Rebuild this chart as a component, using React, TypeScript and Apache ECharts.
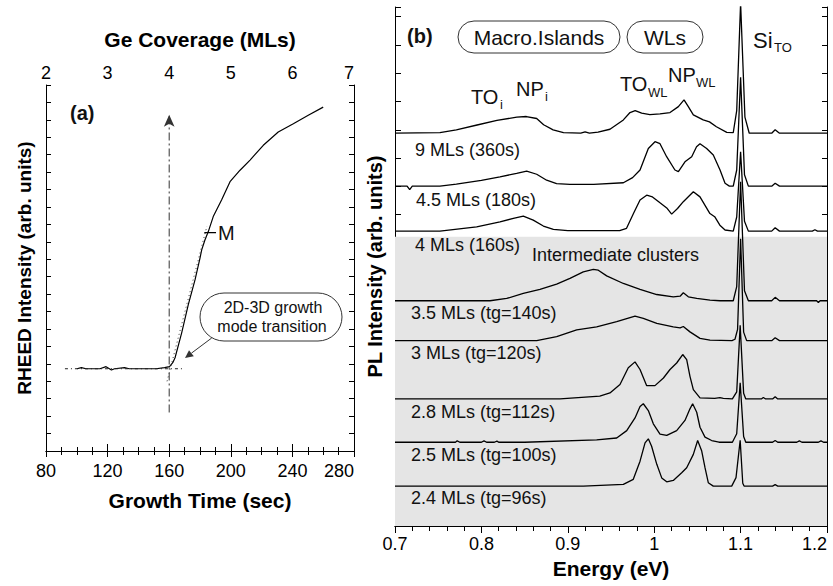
import React, { useEffect, useRef } from "react";
import * as echarts from "echarts";

const FONT = "'Liberation Sans', Arial, Helvetica, sans-serif";

// ---------------- Panel (a): RHEED intensity ----------------
const growthTimeTicks = [80, 120, 160, 200, 240, 280];
const geCoverageTicks = [2, 3, 4, 5, 6, 7];
const rheedRange = [0, 21];

const rheedTime = [100, 103, 106, 115, 119, 122.5, 124.5, 131, 134, 151.5, 157, 160.2, 162.3, 163.8, 168.1, 172.4, 176.8, 180, 181.1, 183.2, 185.4, 188.6, 194, 199.5, 206, 212.5, 221.1, 230.8, 240.6, 250.3, 260];
const rheedIntensity = [4.72, 4.78, 4.72, 4.72, 4.84, 4.65, 4.72, 4.78, 4.72, 4.72, 4.78, 4.84, 5.07, 5.35, 6.78, 8.4, 9.83, 11.07, 11.54, 12.11, 12.59, 13.45, 14.4, 15.45, 16.11, 16.69, 17.54, 18.3, 18.78, 19.26, 19.73];

const baselineGuide = [[92.3, 4.72], [169.2, 4.72]];
const slopeGuide = [[158.6, 4.0], [184.5, 12.9]];
const transitionLine = [[160, 2.21], [160, 19.3]];
const markM = [[182.8, 12.53], [190.4, 12.53]];

// ---------------- Panel (b): PL spectra ----------------
const energyTicks = [0.7, 0.8, 0.9, 1.0, 1.1, 1.2];
const plRange = [0, 18.34];
const shadedBand = [0, 10.22];

const spectrumLabels = ["9 MLs (360s)", "4.5 MLs (180s)", "4 MLs (160s)", "3.5 MLs (tg=140s)", "3 MLs (tg=120s)", "2.8 MLs (tg=112s)", "2.5 MLs (tg=100s)", "2.4 MLs (tg=96s)"];
const spectrumBaselines = [13.88, 12.01, 10.42, 7.96, 6.55, 4.49, 2.96, 1.41];

const spec9ML = [[0.7, 0], [0.752, 0.02], [0.771, 0.12], [0.795, 0.29], [0.818, 0.45], [0.841, 0.57], [0.852, 0.59], [0.864, 0.52], [0.872, 0.3], [0.883, 0.12], [0.895, 0.02], [0.915, 0.0], [0.92, 0.05], [0.925, 0.0], [0.935, 0.04], [0.9488, 0.14], [0.9643, 0.47], [0.972, 0.73], [0.978, 0.8], [0.9855, 0.71], [0.995, 0.66], [1.0067, 0.68], [1.0183, 0.73], [1.028, 0.94], [1.0345, 1.18], [1.0395, 0.94], [1.0453, 0.65], [1.0567, 0.47], [1.064, 0.4], [1.072, 0.23], [1.084, 0.03], [1.0915, 0.02], [1.0955, 0.8], [1.1, 4.6], [1.105, 0.57], [1.11, 0], [1.136, 0], [1.14, 0.12], [1.145, 0], [1.2, 0]];
const spec45ML = [[0.7, 0], [0.714, 0], [0.717, -0.12], [0.72, 0], [0.752, 0], [0.771, 0.07], [0.8, 0.2], [0.8215, 0.33], [0.8408, 0.45], [0.8524, 0.53], [0.864, 0.42], [0.8755, 0.21], [0.887, 0.09], [0.9025, 0.06], [0.93, 0.06], [0.9643, 0.12], [0.975, 0.3], [0.9836, 0.57], [0.9932, 1.33], [1.0009, 1.57], [1.0067, 1.5], [1.0144, 1.04], [1.024, 0.57], [1.028, 0.51], [1.0356, 0.86], [1.0434, 1.04], [1.049, 1.39], [1.053, 1.5], [1.0607, 1.33], [1.0684, 1.1], [1.0762, 0.57], [1.082, 0.1], [1.087, 0], [1.0915, 0], [1.0955, 0.57], [1.1, 3.85], [1.1045, 0.4], [1.109, 0], [1.136, 0], [1.14, 0.1], [1.145, 0], [1.2, 0]];
const spec4ML = [[0.7, 0], [0.752, 0], [0.7945, 0.15], [0.8215, 0.33], [0.837, 0.45], [0.8485, 0.53], [0.86, 0.39], [0.8717, 0.18], [0.8833, 0.06], [0.9, 0.02], [0.96, 0.02], [0.968, 0.1], [0.976, 0.62], [0.9836, 1.1], [0.9913, 1.27], [0.998, 1.21], [1.0067, 1.0], [1.0145, 0.82], [1.0202, 0.6], [1.027, 0.8], [1.0337, 1.04], [1.0453, 1.39], [1.053, 1.21], [1.0645, 0.62], [1.07, 0.51], [1.076, 0.21], [1.082, 0.04], [1.0915, 0], [1.0955, 0.5], [1.1, 2.8], [1.1045, 0.35], [1.109, 0], [1.136, 0], [1.14, 0.12], [1.145, 0], [1.183, 0], [1.186, 0.05], [1.189, 0], [1.2, 0]];
const spec35ML = [[0.7, 0], [0.81, 0], [0.8293, 0.08], [0.8485, 0.26], [0.8678, 0.4], [0.8871, 0.59], [0.9025, 0.79], [0.9179, 1.02], [0.9295, 1.11], [0.9353, 1.08], [0.945, 0.88], [0.9643, 0.61], [0.9836, 0.4], [1.0029, 0.22], [1.0221, 0.14], [1.03, 0.16], [1.0337, 0.28], [1.0395, 0.14], [1.0492, 0.08], [1.0646, 0.02], [1.0762, 0], [1.0915, 0], [1.0955, 0.5], [1.1, 4.2], [1.1045, 0.35], [1.109, 0], [1.136, 0], [1.14, 0.12], [1.145, 0], [1.188, 0], [1.19, -0.06], [1.192, 0], [1.2, 0]];
const spec3ML = [[0.7, 0], [0.864, 0], [0.8871, 0.14], [0.9103, 0.38], [0.9334, 0.49], [0.9566, 0.67], [0.9778, 0.87], [0.9874, 0.79], [1.003, 0.61], [1.0221, 0.49], [1.03, 0.45], [1.0337, 0.5], [1.0414, 0.31], [1.053, 0.08], [1.0646, 0.02], [1.09, 0], [1.0935, 0.05], [1.0965, 0.4], [1.1, 3.6], [1.1035, 0.3], [1.107, 0], [1.136, 0], [1.14, 0.1], [1.145, 0], [1.2, 0]];
const spec28ML = [[0.7, 0], [0.891, 0], [0.937, 0.1], [0.9488, 0.21], [0.9604, 0.51], [0.97, 1.1], [0.9778, 1.31], [0.9836, 1.04], [0.9913, 0.47], [1.0009, 0.47], [1.0107, 0.74], [1.0183, 1.04], [1.026, 1.27], [1.033, 1.57], [1.0376, 1.39], [1.0414, 0.8], [1.0453, 0.33], [1.053, 0.04], [1.07, 0.02], [1.076, 0.05], [1.08, 0.02], [1.0905, 0], [1.0955, 0.25], [1.0995, 2.6], [1.1035, 0.2], [1.106, 0], [1.124, 0], [1.1263, 0.05], [1.129, 0], [1.137, 0], [1.14, 0.08], [1.143, 0], [1.2, 0]];
const spec25ML = [[0.7, 0], [0.77, 0], [0.772, 0.05], [0.775, 0], [0.8, 0], [0.803, 0.05], [0.806, 0], [0.815, 0], [0.818, 0.04], [0.82, 0], [0.85, 0], [0.9334, 0.08], [0.9566, 0.15], [0.9682, 0.41], [0.9778, 0.86], [0.9836, 1.26], [0.9874, 1.36], [0.9932, 1.12], [0.999, 0.65], [1.0067, 0.29], [1.0145, 0.24], [1.026, 0.41], [1.0356, 0.77], [1.0414, 1.18], [1.0445, 1.36], [1.0492, 1.06], [1.053, 0.53], [1.0588, 0.18], [1.0665, 0.06], [1.075, 0], [1.0905, 0], [1.0955, 0.3], [1.0995, 2.1], [1.1035, 0.2], [1.106, 0], [1.137, 0], [1.14, 0.06], [1.143, 0], [1.165, 0], [1.168, 0.05], [1.171, 0], [1.19, 0], [1.193, 0.05], [1.196, 0], [1.2, 0]];
const spec24ML = [[0.7, 0], [0.918, 0], [0.9643, 0.06], [0.9758, 0.24], [0.9836, 0.88], [0.9894, 1.53], [0.9932, 1.67], [0.997, 1.41], [1.003, 0.77], [1.0087, 0.29], [1.0145, 0.15], [1.0221, 0.2], [1.0318, 0.47], [1.0376, 0.65], [1.0453, 1.12], [1.0503, 1.61], [1.055, 1.24], [1.0588, 0.65], [1.0626, 0.12], [1.0684, 0], [1.0897, 0], [1.0947, 0.3], [1.0995, 1.62], [1.1025, 0.1], [1.104, 0], [1.137, 0], [1.14, 0.05], [1.143, 0], [1.2, 0]];

const spectra = [spec9ML, spec45ML, spec4ML, spec35ML, spec3ML, spec28ML, spec25ML, spec24ML];

// ---------------- layout ----------------
const GA = { left: 46, top: 85, width: 308, height: 366 };
const GB = { left: 395, top: 7, width: 432, height: 519 };
const labelYs = [150, 200, 245, 313, 353, 412, 455, 498];
const labelXs = [415, 416, 415, 411, 411, 411, 411, 411];

const txt = (x: number, y: number, text: string, size: number, opts: any = {}) => ({
  type: "text",
  x,
  y,
  z: 100,
  style: {
    text,
    fill: "#111",
    fontSize: size,
    fontFamily: FONT,
    fontWeight: opts.bold ? "bold" : "normal",
    align: opts.align || "left",
    verticalAlign: "middle",
  },
});

export default function App() {
  const ref = useRef<HTMLDivElement>(null);

  useEffect(() => {
    if (!ref.current) return;
    const chart = echarts.init(ref.current, undefined, { renderer: "svg" });

    const axisLine = { show: true, lineStyle: { color: "#000", width: 1 } };
    const nameStyle = { fontSize: 21, fontWeight: "bold", color: "#000", fontFamily: FONT };
    const labelStyle = { fontSize: 18, color: "#000", fontFamily: FONT };

    const tAx = {
      min: growthTimeTicks[0],
      max: growthTimeTicks[growthTimeTicks.length - 1],
      interval: growthTimeTicks[1] - growthTimeTicks[0],
    };
    const cAx = {
      min: geCoverageTicks[0],
      max: geCoverageTicks[geCoverageTicks.length - 1],
      interval: geCoverageTicks[1] - geCoverageTicks[0],
    };

    const specLine = { color: "#000", width: 1.3 };

    const option: any = {
      animation: false,
      backgroundColor: "#fff",
      grid: [
        { ...GA, containLabel: false },
        { ...GB, containLabel: false },
      ],
      xAxis: [
        {
          type: "value", gridIndex: 0, position: "bottom", ...tAx,
          axisLine, splitLine: { show: false },
          axisTick: { inside: true, length: 7, lineStyle: { color: "#000" } },
          minorTick: { show: true, splitNumber: 4, length: 4, lineStyle: { color: "#000" } },
          axisLabel: { ...labelStyle, margin: 11, alignMaxLabel: "right" },
          name: "Growth Time (sec)", nameLocation: "middle", nameGap: 39, nameTextStyle: nameStyle,
        },
        {
          type: "value", gridIndex: 0, position: "top", ...cAx,
          axisLine, splitLine: { show: false },
          axisTick: { inside: true, length: 6, lineStyle: { color: "#000" } },
          minorTick: { show: true, splitNumber: 4, length: 4, lineStyle: { color: "#000" } },
          axisLabel: { ...labelStyle, margin: 3, alignMaxLabel: "right" },
          name: "Ge Coverage (MLs)", nameLocation: "middle", nameGap: 35, nameTextStyle: nameStyle,
        },
        {
          type: "value", gridIndex: 1, position: "bottom",
          min: energyTicks[0], max: energyTicks[energyTicks.length - 1], interval: 0.1,
          axisLine, splitLine: { show: false },
          axisTick: { inside: true, length: 8, lineStyle: { color: "#000" } },
          minorTick: { show: true, splitNumber: 5, length: 5, lineStyle: { color: "#000" } },
          axisLabel: { ...labelStyle, margin: 9, alignMaxLabel: "right" },
          name: "Energy (eV)", nameLocation: "middle", nameGap: 31, nameTextStyle: nameStyle,
        },
        {
          type: "value", gridIndex: 1, position: "top",
          min: energyTicks[0], max: energyTicks[energyTicks.length - 1], interval: 0.1,
          axisLine, splitLine: { show: false },
          axisTick: { inside: true, length: 7, lineStyle: { color: "#000" } },
          minorTick: { show: true, splitNumber: 5, length: 5, lineStyle: { color: "#000" } },
          axisLabel: { show: false },
        },
      ],
      yAxis: [
        {
          type: "value", gridIndex: 0, position: "left", min: rheedRange[0], max: rheedRange[1], interval: 1,
          axisLine, splitLine: { show: false },
          axisTick: { inside: true, length: 5, lineStyle: { color: "#000" } },
          axisLabel: { show: false },
          name: "RHEED Intensity (arb. units)", nameLocation: "middle", nameGap: 12,
          nameTextStyle: { ...nameStyle, fontSize: 19 },
        },
        {
          type: "value", gridIndex: 0, position: "right", min: rheedRange[0], max: rheedRange[1], interval: 1,
          axisLine, splitLine: { show: false },
          axisTick: { inside: true, length: 5, lineStyle: { color: "#000" } },
          axisLabel: { show: false },
        },
        {
          type: "value", gridIndex: 1, position: "left", min: plRange[0], max: plRange[1], interval: 1,
          axisLine, splitLine: { show: false },
          axisTick: { inside: true, length: 6, lineStyle: { color: "#000" } },
          axisLabel: { show: false },
          name: "PL Intensity (arb. units)", nameLocation: "middle", nameGap: 10,
          nameTextStyle: { ...nameStyle, fontSize: 20 },
        },
        {
          type: "value", gridIndex: 1, position: "right", min: plRange[0], max: plRange[1], interval: 1,
          axisLine, splitLine: { show: false },
          axisTick: { inside: true, length: 5, lineStyle: { color: "#000" } },
          axisLabel: { show: false },
        },
      ],
      series: [
        {
          type: "line", xAxisIndex: 0, yAxisIndex: 0, silent: true,
          data: rheedTime.map((t, i) => [t, rheedIntensity[i]]),
          showSymbol: false, symbol: "none",
          lineStyle: { color: "#000", width: 1.2 }, z: 3,
        },
        {
          type: "line", xAxisIndex: 0, yAxisIndex: 0, silent: true, data: baselineGuide,
          symbol: "none", lineStyle: { color: "#222", width: 1, type: [3, 3, 1, 3] },
        },
        {
          type: "line", xAxisIndex: 0, yAxisIndex: 0, silent: true, data: slopeGuide,
          symbol: "none", lineStyle: { color: "#333", width: 1, type: [1, 3] },
        },
        {
          type: "line", xAxisIndex: 0, yAxisIndex: 0, silent: true,
          data: [
            { value: transitionLine[0], symbol: "none" },
            { value: transitionLine[1], symbol: "arrow", symbolSize: [8, 12] },
          ],
          showSymbol: true,
          itemStyle: { color: "#333" },
          lineStyle: { color: "#333", width: 1, type: [8, 3, 2, 3] },
        },
        {
          type: "line", xAxisIndex: 0, yAxisIndex: 0, silent: true, data: markM,
          symbol: "none", lineStyle: { color: "#000", width: 1.2 },
        },
        ...spectra.map((spec, k) => ({
          type: "line",
          xAxisIndex: 2,
          yAxisIndex: 2,
          silent: true,
          clip: true,
          symbol: "none",
          showSymbol: false,
          data: spec.map(([e, h]) => [e, spectrumBaselines[k] + h]),
          lineStyle: specLine,
          z: 3,
          ...(k === 3
            ? {
                markArea: {
                  silent: true,
                  z: 1,
                  itemStyle: { color: "#e5e5e5" },
                  data: [[
                    { xAxis: energyTicks[0], yAxis: shadedBand[0] },
                    { xAxis: energyTicks[energyTicks.length - 1], yAxis: shadedBand[1] },
                  ]],
                },
              }
            : {}),
        })),
      ],
      graphic: [
        // panel (a)
        txt(70, 113, "(a)", 20, { bold: true }),
        txt(218, 233, "M", 20),
        {
          type: "rect", z: 100,
          shape: { x: 200, y: 293, width: 142, height: 48, r: 24 },
          style: { fill: "#fff", stroke: "#333", lineWidth: 1 },
        },
        txt(273, 307, "2D-3D growth", 16, { align: "center" }),
        txt(272, 326, "mode transition", 16, { align: "center" }),
        {
          type: "line", z: 100,
          shape: { x1: 211.7, y1: 338, x2: 191.4, y2: 353.2 },
          style: { stroke: "#333", lineWidth: 1 },
        },
        {
          type: "polygon", z: 100,
          shape: { points: [[185, 358], [193.8, 356.2], [189.0, 350.2]] },
          style: { fill: "#333" },
        },
        // panel (b)
        txt(407, 36, "(b)", 20, { bold: true }),
        {
          type: "rect", z: 100,
          shape: { x: 458, y: 21, width: 162, height: 32, r: 16 },
          style: { fill: "#fff", stroke: "#333", lineWidth: 1 },
        },
        txt(539, 37, "Macro.Islands", 21, { align: "center" }),
        {
          type: "rect", z: 100,
          shape: { x: 627, y: 21, width: 76, height: 32, r: 16 },
          style: { fill: "#fff", stroke: "#333", lineWidth: 1 },
        },
        txt(665, 37, "WLs", 21, { align: "center" }),
        txt(753, 40, "Si", 22),
        txt(774, 47, "TO", 13),
        txt(471, 97, "TO", 20),
        txt(500, 104, "i", 13),
        txt(516, 89, "NP", 20),
        txt(545, 96, "i", 13),
        txt(620, 84, "TO", 20),
        txt(648, 92, "WL", 13),
        txt(668, 75, "NP", 20),
        txt(696, 82, "WL", 13),
        txt(532, 255, "Intermediate clusters", 18),
        ...spectrumLabels.map((s, i) => txt(labelXs[i], labelYs[i], s, 18)),
      ],
    };

    chart.setOption(option);
    return () => chart.dispose();
  }, []);

  return (
    <div
      ref={ref}
      style={{ position: "absolute", left: 0, top: 0, width: 833, height: 586, background: "#fff" }}
    />
  );
}
